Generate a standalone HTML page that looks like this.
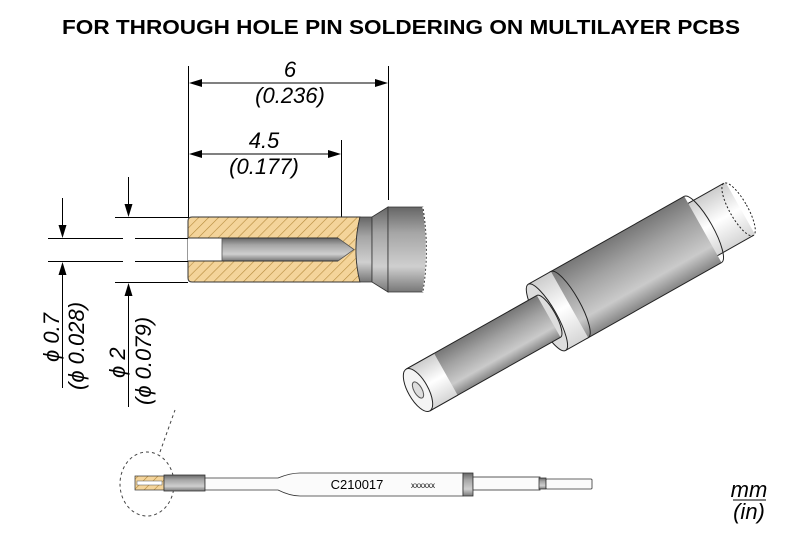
<!DOCTYPE html>
<html><head><meta charset="utf-8"><style>
html,body{margin:0;padding:0;background:#fff;width:800px;height:533px;overflow:hidden}
svg{display:block}
text{font-family:"Liberation Sans",sans-serif}
.it{font-style:italic;font-size:22px}
.iv{font-style:italic;font-size:22px}
</style></head><body>
<svg width="800" height="533" viewBox="0 0 800 533" xmlns="http://www.w3.org/2000/svg">
<defs>
<pattern id="hatch" width="7" height="7" patternUnits="userSpaceOnUse" patternTransform="rotate(45)">
<rect width="7" height="7" fill="#f4d49a"/><line x1="0" y1="0" x2="0" y2="7" stroke="#b58a3c" stroke-width="1.2"/>
</pattern>
<linearGradient id="gv" x1="0" y1="0" x2="0" y2="1">
<stop offset="0" stop-color="#666"/><stop offset="0.3" stop-color="#a5a5a5"/><stop offset="0.7" stop-color="#cfcfcf"/><stop offset="1" stop-color="#777"/>
</linearGradient>
<linearGradient id="gr" x1="0" y1="0" x2="0" y2="1">
<stop offset="0" stop-color="#777"/><stop offset="0.35" stop-color="#a2a2a2"/><stop offset="0.75" stop-color="#cacaca"/><stop offset="1" stop-color="#858585"/>
</linearGradient>
<linearGradient id="gw" x1="0" y1="0" x2="0" y2="1">
<stop offset="0" stop-color="#ccc"/><stop offset="0.5" stop-color="#fff"/><stop offset="1" stop-color="#d5d5d5"/>
</linearGradient>
</defs>

<text x="62" y="34" font-size="20" font-weight="bold" textLength="678" lengthAdjust="spacingAndGlyphs">FOR THROUGH HOLE PIN SOLDERING ON MULTILAYER PCBS</text>

<g stroke="#000" stroke-width="1" fill="none">
<line x1="188.5" y1="66" x2="188.5" y2="218"/>
<line x1="388.5" y1="66" x2="388.5" y2="200"/>
<line x1="341.5" y1="140" x2="341.5" y2="230"/>
<line x1="200" y1="83" x2="377" y2="83"/>
<line x1="200" y1="154" x2="330" y2="154"/>
</g>
<path d="M189,83 l13,-4 v8z M388,83 l-13,-4 v8z M189,154 l13,-4 v8z M341,154 l-13,-4 v8z" fill="#000"/>
<text class="it" x="290" y="77" text-anchor="middle">6</text>
<text class="it" x="290" y="103" text-anchor="middle">(0.236)</text>
<text class="it" x="264" y="148" text-anchor="middle">4.5</text>
<text class="it" x="264" y="174" text-anchor="middle">(0.177)</text>

<path d="M360,217 Q352,250 360,282 L192,282 Q188,282 188,278 L188,221 Q188,217 192,217 Z" fill="url(#hatch)" stroke="#333" stroke-width="1"/>
<rect x="188" y="238" width="150" height="23" fill="#fff"/>
<path d="M222,238 L338,238 L354,249.5 L338,261 L222,261 Z" fill="url(#gv)" stroke="#555" stroke-width="0.8"/>
<line x1="188" y1="238" x2="338" y2="238" stroke="#333"/><line x1="188" y1="261" x2="338" y2="261" stroke="#333"/>
<path d="M360,217 L372,217 L372,282 L360,282 Q352,250 360,217Z" fill="url(#gv)" stroke="#333" stroke-width="0.8"/>
<path d="M372,217 L388,207 L388,292 L372,282Z" fill="url(#gv)" stroke="#333" stroke-width="0.8"/>
<path d="M388,207 L423,207 Q430,250 423,292 L388,292Z" fill="url(#gv)" stroke="#333" stroke-width="0.8"/>
<path d="M423,207 Q430,250 423,292" fill="none" stroke="#fff" stroke-width="1.5" stroke-dasharray="2,2"/>

<g stroke="#000" stroke-width="1" fill="none">
<line x1="48" y1="238.5" x2="123" y2="238.5"/><line x1="135" y1="238.5" x2="188" y2="238.5"/>
<line x1="48" y1="261.5" x2="123" y2="261.5"/><line x1="135" y1="261.5" x2="188" y2="261.5"/>
<line x1="115" y1="217.5" x2="188" y2="217.5"/><line x1="115" y1="282.5" x2="188" y2="282.5"/>
<line x1="62.5" y1="198" x2="62.5" y2="226"/><line x1="62.5" y1="273" x2="62.5" y2="388"/>
<line x1="128.5" y1="177" x2="128.5" y2="206"/><line x1="128.5" y1="294" x2="128.5" y2="407"/>
</g>
<path d="M62.5,238 l-4,-13 h8z M62.5,262 l-4,13 h8z M128.5,217 l-4,-13 h8z M128.5,283 l-4,13 h8z" fill="#000"/>
<text class="iv" transform="translate(59,362) rotate(-90)">ϕ 0.7</text>
<text class="iv" transform="translate(84,390) rotate(-90)">(ϕ 0.028)</text>
<text class="iv" transform="translate(125,378) rotate(-90)">ϕ 2</text>
<text class="iv" transform="translate(151,405) rotate(-90)">(ϕ 0.079)</text>

<g transform="translate(418,390) rotate(-29.4)" stroke="#222" stroke-width="1">
<rect x="325" y="-30" width="45" height="60" fill="url(#gw)" stroke="none"/>
<path d="M325,-30 L368,-30 M325,30 L368,30" />
<ellipse cx="368" cy="0" rx="9" ry="30" fill="none" stroke-dasharray="2,2"/>
<rect x="172" y="-38" width="155" height="76" fill="url(#gr)" stroke="none"/>
<path d="M172,-38 L327,-38 M172,38 L327,38"/>
<path d="M327,-38 A10,38 0 0 1 327,38" fill="none"/>
<rect x="148" y="-38" width="26" height="76" fill="url(#gw)" stroke="none"/>
<path d="M148,-38 L174,-38 M148,38 L174,38"/>
<path d="M174,-38 A10,38 0 0 1 174,38" fill="none"/>
<ellipse cx="148" cy="0" rx="10" ry="38" fill="#ddd"/>
<rect x="0" y="-24" width="150" height="48" fill="url(#gr)" stroke="none"/>
<path d="M0,-24 L150,-24 M0,24 L150,24"/>
<path d="M150,-24 A7,24 0 0 1 150,24" fill="none"/>
<rect x="0" y="-24" width="32" height="48" fill="url(#gw)" stroke="none"/>
<path d="M0,-24 L32,-24 M0,24 L32,24" />
<ellipse cx="0" cy="0" rx="10" ry="24" fill="#f4f4f4"/>
<ellipse cx="0" cy="0" rx="4" ry="9" fill="#ddd" stroke="#555"/>
</g>

<ellipse cx="147" cy="484" rx="27" ry="32" fill="none" stroke="#444" stroke-dasharray="3,3"/>
<line x1="160" y1="452" x2="175" y2="410" stroke="#444" stroke-dasharray="3,3"/>
<rect x="135" y="476" width="29" height="14" fill="url(#hatch)" stroke="#333" stroke-width="0.7"/>
<rect x="137" y="481" width="25" height="4" fill="#fff" stroke="#555" stroke-width="0.5"/>
<rect x="164" y="475" width="41" height="16" fill="url(#gv)" stroke="#333" stroke-width="0.8"/>
<path d="M205,478 L278,478 Q290,473 300,473 L463,473 L463,496 L300,496 Q290,496 278,490 L205,490Z" fill="#fbfbfb" stroke="#333" stroke-width="0.8"/>
<rect x="463" y="473" width="10" height="23" fill="url(#gv)" stroke="#333" stroke-width="0.8"/>
<rect x="473" y="477" width="67" height="13" fill="#fbfbfb" stroke="#333" stroke-width="0.8"/>
<rect x="539" y="478" width="7" height="11" fill="url(#gv)" stroke="#333" stroke-width="0.8"/>
<rect x="546" y="479" width="46" height="10" rx="1" fill="#fbfbfb" stroke="#333" stroke-width="0.8"/>
<text x="357" y="489" font-size="13" text-anchor="middle">C210017</text>
<text x="423" y="488" font-size="8" text-anchor="middle">xxxxxx</text>

<text class="it" x="749" y="497" text-anchor="middle" font-size="19">mm</text>
<line x1="733" y1="500" x2="766" y2="500" stroke="#000" stroke-width="1"/>
<text class="it" x="749" y="519" text-anchor="middle" font-size="19">(in)</text>
</svg>
</body></html>
